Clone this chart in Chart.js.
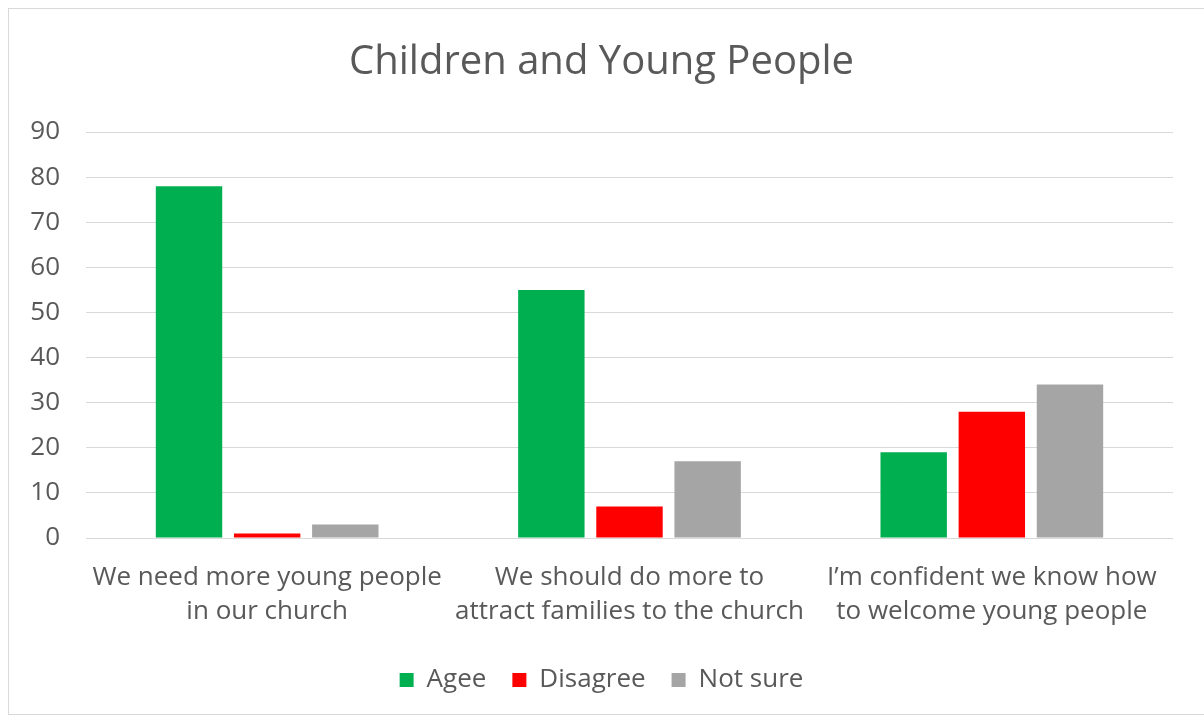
<!DOCTYPE html>
<html>
<head>
<meta charset="utf-8">
<script src="https://cdn.jsdelivr.net/npm/chart.js@4"></script>
<style>
html,body{margin:0;padding:0;background:#fff;}
#wrap{position:absolute;left:0;top:0;width:1204px;height:722px;}
</style>
</head>
<body>
<div id="wrap"><canvas id="c" width="1204" height="722"></canvas></div>
<script>
const categories = [
  ["We need more young people", "in our church"],
  ["We should do more to", "attract families to the church"],
  ["I\u2019m confident we know how", "to welcome young people"]
];
const seriesNames = ["Agee", "Disagree", "Not sure"];
const agree = [78, 55, 19];
const disagree = [1, 7, 28];
const notSure = [3, 17, 34];
const yTicks = [0, 10, 20, 30, 40, 50, 60, 70, 80, 90];

const FONT = "'Open Sans', sans-serif";
const TXT = "#595959";

const borderPlugin = {
  id: 'outerBorder',
  beforeDraw(chart) {
    const ctx = chart.ctx;
    ctx.save();
    ctx.fillStyle = '#fff';
    ctx.fillRect(0, 0, chart.width, chart.height);
    ctx.strokeStyle = '#d9d9d9';
    ctx.lineWidth = 1;
    ctx.strokeRect(8.5, 8.5, 1210, 706);
    ctx.restore();
  }
};

new Chart(document.getElementById('c'), {
  type: 'bar',
  data: {
    labels: categories,
    datasets: [
      { label: seriesNames[0], data: agree, backgroundColor: '#00B050' },
      { label: seriesNames[1], data: disagree, backgroundColor: '#FF0000' },
      { label: seriesNames[2], data: notSure, backgroundColor: '#A5A5A5' }
    ]
  },
  options: {
    responsive: false,
    animation: false,
    devicePixelRatio: 1,
    layout: { padding: { left: 30, right: 31, top: 0, bottom: 19 } },
    datasets: { bar: { barPercentage: 0.85, categoryPercentage: 0.647 } },
    plugins: {
      title: {
        display: true,
        text: 'Children and Young People',
        color: TXT,
        font: { family: FONT, size: 40, weight: 'normal' },
        padding: { top: 39, bottom: 45 }
      },
      legend: {
        position: 'bottom',
        labels: {
          color: TXT,
          font: { family: FONT, size: 26 },
          boxWidth: 14,
          boxHeight: 14,
          padding: 26
        }
      },
      tooltip: { enabled: false }
    },
    scales: {
      x: {
        grid: { display: false, drawTicks: false },
        border: { display: false },
        ticks: { color: TXT, font: { family: FONT, size: 26, lineHeight: 1.32 }, padding: 22, maxRotation: 0, autoSkip: false },
        afterFit(scale) { scale.height = 103; }
      },
      y: {
        min: 0, max: 90,
        afterBuildTicks(scale) { scale.ticks = yTicks.map(v => ({ value: v })); },
        grid: { color: '#d9d9d9', lineWidth: 1, drawTicks: false },
        border: { display: false },
        ticks: { color: TXT, font: { family: FONT, size: 26 }, padding: 26 },
        afterFit(scale) { scale.width = 56; }
      }
    }
  },
  plugins: [borderPlugin]
});
</script>
</body>
</html>
